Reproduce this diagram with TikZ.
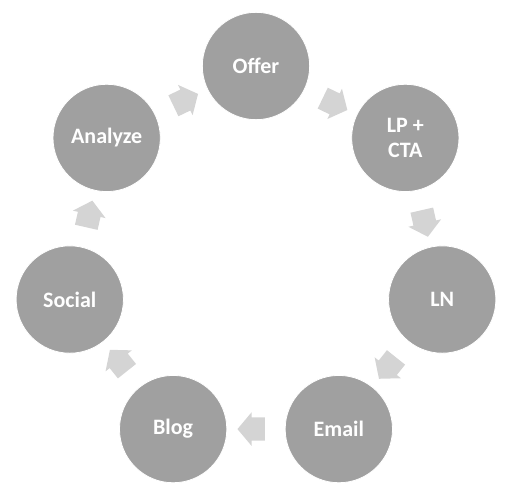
\documentclass[tikz,border=0pt]{standalone}
\usepackage{fontspec}
\setmainfont{Carlito}
\usetikzlibrary{shapes.arrows}

\definecolor{stagegray}{RGB}{160,160,160}
\definecolor{flowgray}{RGB}{212,212,212}

\tikzset{
  stage/.style={circle, fill=stagegray, draw=white, line width=0.6pt, minimum size=80.5pt, inner sep=0pt,
    text=white, align=center, font=\fontsize{16.5}{18.5}\selectfont\bfseries},
  flow/.style={single arrow, fill=flowgray, draw=none, sloped, allow upside down, inner sep=0pt,
    text width=0pt, text height=8.5pt, text depth=8.5pt,
    minimum height=20.5pt, minimum width=24.8pt, single arrow head extend=3.9pt, single arrow tip angle=100}
}

\begin{document}
\begin{tikzpicture}[x=0.75pt,y=0.75pt]
\useasboundingbox (-256,-237) rectangle (252,257);

%Stages
\node[stage] (offer) at (90:191) {Offer};
\node[stage] (lpcta) at (38.57:191) {LP +\\CTA};
\node[stage] (ln) at (-12.86:191) {LN};
\node[stage] (email) at (-64.29:191) {Email};
\node[stage] (blog) at (-115.71:191) {Blog};
\node[stage] (social) at (-167.14:191) {Social};
\node[stage] (analyze) at (141.43:191) {Analyze};

%Flow arrows
\path (offer) -- node[flow] {} (lpcta);
\path (lpcta) -- node[flow] {} (ln);
\path (ln) -- node[flow] {} (email);
\path (email) -- node[flow] {} (blog);
\path (blog) -- node[flow] {} (social);
\path (social) -- node[flow] {} (analyze);
\path (analyze) -- node[flow] {} (offer);

\end{tikzpicture}
\end{document}
